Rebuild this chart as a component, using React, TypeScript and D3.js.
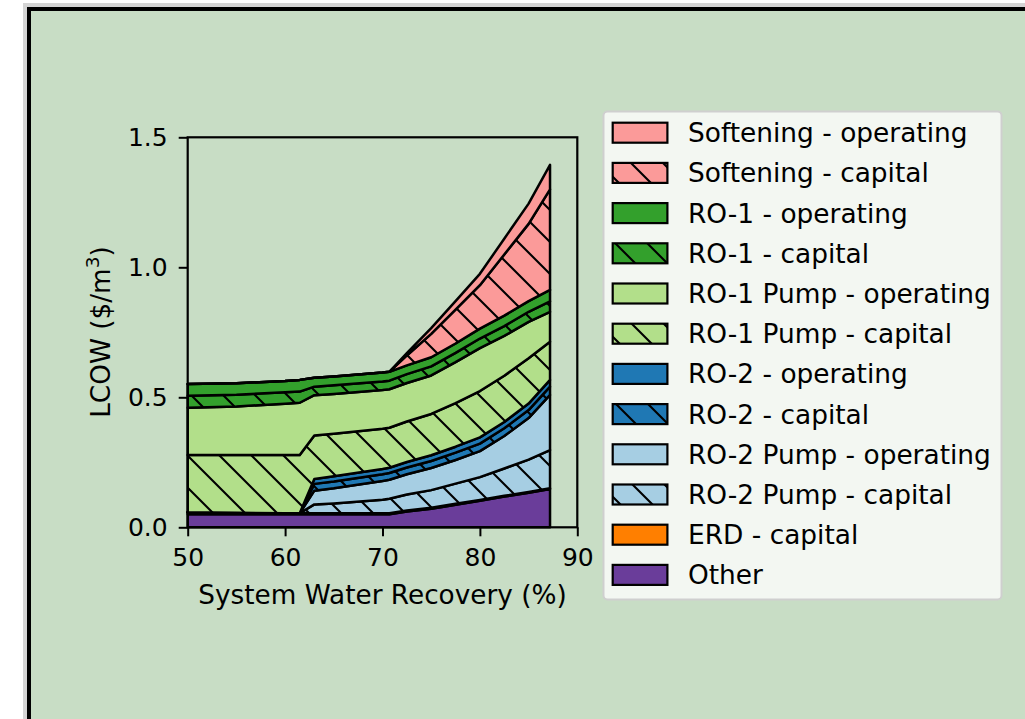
import React, { useRef, useEffect } from "react";
import * as d3 from "d3";

// recovery (%) sampled along the sweep
const recovery = [50, 55, 60, 61.5, 63, 65, 70, 70.7, 72.5, 75, 77.5, 80, 82.5, 85, 87.2];

// LCOW contributions ($/m3)
const other = [0.05, 0.05, 0.05, 0.05, 0.05, 0.05, 0.05, 0.05, 0.061, 0.071, 0.087, 0.102, 0.118, 0.133, 0.147];
const erdCapital = [0.008, 0.006, 0.004, 0.004, 0.004, 0.004, 0.004, 0.004, 0.004, 0.004, 0.004, 0.003, 0.003, 0.003, 0.003];
const ro2PumpCapital = [0, 0, 0, 0, 0.034, 0.038, 0.052, 0.056, 0.061, 0.068, 0.077, 0.088, 0.105, 0.124, 0.147];
const ro2PumpOperating = [0, 0, 0, 0, 0.053, 0.058, 0.072, 0.073, 0.078, 0.085, 0.091, 0.1, 0.125, 0.16, 0.212];
const ro2Capital = [0, 0, 0, 0, 0.026, 0.026, 0.026, 0.026, 0.026, 0.027, 0.028, 0.029, 0.03, 0.031, 0.032];
const ro2Operating = [0, 0, 0, 0, 0.019, 0.02, 0.02, 0.02, 0.021, 0.022, 0.023, 0.024, 0.024, 0.025, 0.026];
const ro1PumpCapital = [0.22, 0.222, 0.224, 0.224, 0.167, 0.164, 0.155, 0.154, 0.156, 0.159, 0.168, 0.178, 0.178, 0.174, 0.147];
const ro1PumpOperating = [0.182, 0.187, 0.197, 0.201, 0.155, 0.153, 0.149, 0.148, 0.148, 0.148, 0.157, 0.165, 0.153, 0.14, 0.115];
const ro1Capital = [0.046, 0.045, 0.044, 0.043, 0.033, 0.033, 0.033, 0.033, 0.034, 0.035, 0.036, 0.037, 0.038, 0.039, 0.04];
const ro1Operating = [0.045, 0.044, 0.044, 0.045, 0.034, 0.034, 0.034, 0.034, 0.034, 0.035, 0.036, 0.038, 0.04, 0.041, 0.044];
const softeningCapital = [0, 0, 0, 0, 0, 0, 0, 0, 0.038, 0.09, 0.13, 0.167, 0.235, 0.297, 0.387];
const softeningOperating = [0, 0, 0, 0, 0, 0, 0, 0, 0.009, 0.022, 0.033, 0.044, 0.061, 0.078, 0.094];

const xTicks = [50, 60, 70, 80, 90];
const yTicks = [0, 0.5, 1.0, 1.5];

// bottom -> top stacking order
const layers = [
  { key: "other", label: "Other", color: "#6a3d9a", hatch: false, values: other },
  { key: "erd", label: "ERD - capital", color: "#ff7f00", hatch: false, values: erdCapital },
  { key: "ro2pc", label: "RO-2 Pump - capital", color: "#a6cee3", hatch: true, values: ro2PumpCapital },
  { key: "ro2po", label: "RO-2 Pump - operating", color: "#a6cee3", hatch: false, values: ro2PumpOperating },
  { key: "ro2c", label: "RO-2 - capital", color: "#1f78b4", hatch: true, values: ro2Capital },
  { key: "ro2o", label: "RO-2 - operating", color: "#1f78b4", hatch: false, values: ro2Operating },
  { key: "ro1pc", label: "RO-1 Pump - capital", color: "#b2df8a", hatch: true, values: ro1PumpCapital },
  { key: "ro1po", label: "RO-1 Pump - operating", color: "#b2df8a", hatch: false, values: ro1PumpOperating },
  { key: "ro1c", label: "RO-1 - capital", color: "#33a02c", hatch: true, values: ro1Capital },
  { key: "ro1o", label: "RO-1 - operating", color: "#33a02c", hatch: false, values: ro1Operating },
  { key: "softc", label: "Softening - capital", color: "#fb9a99", hatch: true, values: softeningCapital },
  { key: "softo", label: "Softening - operating", color: "#fb9a99", hatch: false, values: softeningOperating },
];

const FONT = "'DejaVu Sans', sans-serif";
const BG = "#c8ddc5";

function LcowChart() {
  const svgRef = useRef(null);

  useEffect(() => {
    const svg = d3.select(svgRef.current);
    svg.selectAll("*").remove();

    const x = d3.scaleLinear().domain([50, 90]).range([187.7, 577.3]);
    const y = d3.scaleLinear().domain([0, 1.5]).range([527.3, 137.3]);

    const defs = svg.append("defs");
    const pat = defs
      .append("pattern")
      .attr("id", "hatch")
      .attr("patternUnits", "userSpaceOnUse")
      .attr("width", 32)
      .attr("height", 32)
      .attr("patternTransform", "translate(0,12)");
    pat
      .append("path")
      .attr("d", "M-4,-4L36,36M-4,28L4,36M28,-4L36,4")
      .attr("stroke", "#000")
      .attr("stroke-width", 2.1);

    // figure frame
    svg.append("rect").attr("x", 23).attr("y", 3).attr("width", 1100).attr("height", 800).attr("fill", "#d4d4d4");
    svg.append("rect").attr("x", 27).attr("y", 7).attr("width", 1100).attr("height", 800).attr("fill", "#000");
    svg.append("rect").attr("x", 31).attr("y", 11).attr("width", 1100).attr("height", 800).attr("fill", BG);

    const table = recovery.map((r, i) => {
      const row = { recovery: r };
      layers.forEach((l) => (row[l.key] = l.values[i]));
      return row;
    });
    const stacked = d3.stack().keys(layers.map((l) => l.key))(table);

    const area = d3
      .area()
      .x((d) => x(d.data.recovery))
      .y0((d) => y(d[0]))
      .y1((d) => y(d[1]));

    const g = svg.append("g");
    stacked.forEach((s, i) => {
      const l = layers[i];
      const dstr = area(s);
      g.append("path").attr("d", dstr).attr("fill", l.color);
      if (l.hatch) g.append("path").attr("d", dstr).attr("fill", "url(#hatch)");
      g.append("path")
        .attr("d", dstr)
        .attr("fill", "none")
        .attr("stroke", "#000")
        .attr("stroke-width", 2.5)
        .attr("stroke-linejoin", "round");
    });

    // axes
    const xAxis = svg
      .append("g")
      .attr("transform", "translate(0,527.3)")
      .call(d3.axisBottom(x).tickValues(xTicks).tickSize(9).tickPadding(12).tickFormat(d3.format("d")));
    const yAxis = svg
      .append("g")
      .attr("transform", "translate(187.7,0)")
      .call(d3.axisLeft(y).tickValues(yTicks).tickSize(9).tickPadding(11).tickFormat(d3.format(".1f")));
    [xAxis, yAxis].forEach((a) => {
      a.select(".domain").remove();
      a.selectAll("line").attr("stroke", "#000").attr("stroke-width", 2);
      a.selectAll("text").attr("font-family", FONT).attr("font-size", 25).attr("fill", "#000");
    });

    svg
      .append("rect")
      .attr("x", 187.7)
      .attr("y", 137.3)
      .attr("width", 577.3 - 187.7)
      .attr("height", 527.3 - 137.3)
      .attr("fill", "none")
      .attr("stroke", "#000")
      .attr("stroke-width", 2.2);

    svg
      .append("text")
      .attr("x", 382.5)
      .attr("y", 604)
      .attr("text-anchor", "middle")
      .attr("font-family", FONT)
      .attr("font-size", 26.3)
      .text("System Water Recovery (%)");

    const yl = svg
      .append("text")
      .attr("transform", "translate(110,332) rotate(-90)")
      .attr("text-anchor", "middle")
      .attr("font-family", FONT)
      .attr("font-size", 26.3);
    yl.append("tspan").text("LCOW ($/m");
    yl.append("tspan").attr("dy", -11).attr("font-size", 18.5).text("3");
    yl.append("tspan").attr("dy", 11).text(")");

    // legend
    const lg = svg.append("g");
    lg.append("rect")
      .attr("x", 603.5)
      .attr("y", 111.5)
      .attr("width", 398)
      .attr("height", 488)
      .attr("rx", 4)
      .attr("fill", "#f3f7f2")
      .attr("stroke", "#cfcfcf")
      .attr("stroke-width", 2);
    const legendItems = layers.slice().reverse();
    legendItems.forEach((l, i) => {
      const cy = 132.7 + i * 40.2;
      lg.append("rect").attr("x", 612.7).attr("y", cy - 10).attr("width", 54.7).attr("height", 20).attr("fill", l.color);
      if (l.hatch)
        lg.append("rect").attr("x", 612.7).attr("y", cy - 10).attr("width", 54.7).attr("height", 20).attr("fill", "url(#hatch)");
      lg.append("rect")
        .attr("x", 612.7)
        .attr("y", cy - 10)
        .attr("width", 54.7)
        .attr("height", 20)
        .attr("fill", "none")
        .attr("stroke", "#000")
        .attr("stroke-width", 2.2);
      lg.append("text")
        .attr("x", 688)
        .attr("y", cy)
        .attr("dy", "0.36em")
        .attr("font-family", FONT)
        .attr("font-size", 26.4)
        .text(l.label);
    });
  }, []);

  return (
    <svg
      ref={svgRef}
      width={1025}
      height={719}
      style={{ position: "absolute", left: 0, top: 0, background: "#fff" }}
    ></svg>
  );
}

export default function App() {
  return <LcowChart />;
}
